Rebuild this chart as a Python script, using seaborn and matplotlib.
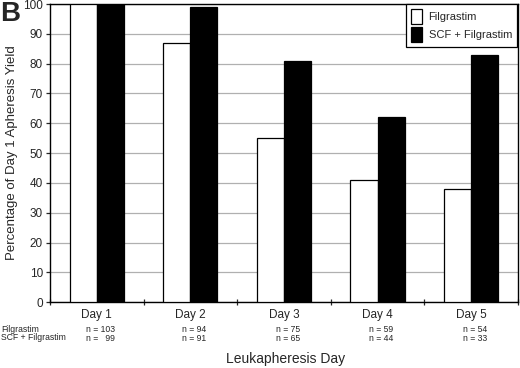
import pandas as pd
import seaborn as sns
import matplotlib.pyplot as plt
from matplotlib.patches import Patch

days = ['Day 1', 'Day 2', 'Day 3', 'Day 4', 'Day 5']
filgrastim = [100, 87, 55, 41, 38]
scf_filgrastim = [100, 99, 81, 62, 83]
n_filgrastim = ['n = 103', 'n = 94', 'n = 75', 'n = 59', 'n = 54']
n_scf = ['n =   99', 'n = 91', 'n = 65', 'n = 44', 'n = 33']
groups = ['Filgrastim', 'SCF + Filgrastim']

df = pd.DataFrame({
    'day': days * 2,
    'yield': filgrastim + scf_filgrastim,
    'group': [groups[0]] * 5 + [groups[1]] * 5,
})

sns.set_style('white')
plt.rcParams['font.family'] = ['Liberation Sans', 'DejaVu Sans']

fig = plt.figure(figsize=(5.2, 3.68), dpi=100)
ax = fig.add_axes([0.096, 0.179, 0.9, 0.81])

sns.barplot(data=df, x='day', y='yield', hue='group', palette=['white', 'black'],
            edgecolor='black', linewidth=0.9, width=0.58, ax=ax, legend=False, zorder=3)

ax.set_ylim(0, 100)
ax.set_xlim(-0.5, 4.5)
ax.set_yticks(range(0, 101, 10))
ax.yaxis.grid(True, color='#b0b0b0', linewidth=0.9, zorder=0)
ax.set_axisbelow(True)
for s in ax.spines.values():
    s.set_color('black')
    s.set_linewidth(1.0)

ax.tick_params(axis='y', direction='out', length=3, width=0.9, labelsize=8.5, pad=2, left=True)
ax.tick_params(axis='x', which='major', length=0, labelsize=8.5, pad=5)
ax.set_xticks([x + 0.5 for x in range(-1, 5)], minor=True)
ax.tick_params(axis='x', which='minor', direction='inout', length=5, width=0.9, bottom=True)

ax.set_xlabel('')
ax.set_ylabel('Percentage of Day 1 Apheresis Yield', fontsize=9.5, labelpad=4)

trans = ax.get_xaxis_transform()
for i in range(5):
    ax.text(i + 0.04, -0.091, n_filgrastim[i], transform=trans, ha='center', va='center', fontsize=6.2)
    ax.text(i + 0.04, -0.122, n_scf[i], transform=trans, ha='center', va='center', fontsize=6.2)
fig.text(0.002, 1 - 329 / 368, 'Filgrastim', ha='left', va='center', fontsize=6.2)
fig.text(0.002, 1 - 338 / 368, 'SCF + Filgrastim', ha='left', va='center', fontsize=6.2)

fig.text(0.549, 1 - 359 / 368, 'Leukapheresis Day', ha='center', va='center', fontsize=10)
fig.text(0.0, 1 - 14 / 368, 'B', ha='left', va='center', fontsize=20, fontweight='bold')

handles = [Patch(facecolor='white', edgecolor='black', linewidth=0.9),
           Patch(facecolor='black', edgecolor='black', linewidth=0.9)]
leg = ax.legend(handles, groups, loc='upper right', bbox_to_anchor=(0.998, 1.0), borderaxespad=0,
                fontsize=8, frameon=True, fancybox=False, edgecolor='black', framealpha=1,
                handlelength=1.0, handleheight=1.7, borderpad=0.45, labelspacing=0.25,
                handletextpad=0.6)
leg.get_frame().set_linewidth(0.9)

fig.savefig('out.png', dpi=100)
